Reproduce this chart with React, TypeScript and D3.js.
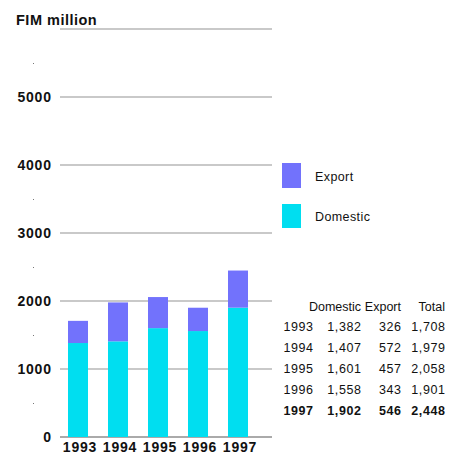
import React from "react";
import * as d3 from "d3";

const years = ["1993", "1994", "1995", "1996", "1997"];
const domestic = [1382, 1407, 1601, 1558, 1902];
const exportV = [326, 572, 457, 343, 546];
const totals = [1708, 1979, 2058, 1901, 2448];
const yTicks = [0, 1000, 2000, 3000, 4000, 5000];
const gridLines = [1000, 2000, 3000, 4000, 5000, 6000];
const minorTicks = [500, 1500, 2500, 3500, 5500];

const EXPORT_C = "#7272fc";
const DOM_C = "#00def0";
const FONT = "'Liberation Sans', Arial, Helvetica, sans-serif";

export default function App() {
  const W = 464, H = 454;
  const y = d3.scaleLinear().domain([0, 6000]).range([437, 29]);
  const x = d3.scaleBand().domain(years).range([58, 258]).paddingInner(0.5).paddingOuter(0.25);
  const fmt = d3.format(",");
  const colX = { year: 313, dom: 361, exp: 401, tot: 445 };
  const rowY = d3.scaleLinear().domain([0, 4]).range([331, 415]);
  const ls = 0.6;
  return (
    <svg width={W} height={H} style={{ position: "absolute", left: 0, top: 0, background: "#fff" }} fontFamily={FONT}>
      <text x={16} y={25} fontSize={14.5} fontWeight="bold" letterSpacing={0.5} fill="#111">FIM million</text>
      {gridLines.map((v) => (
        <line key={v} x1={60} x2={272} y1={y(v)} y2={y(v)} stroke="#c9c9c9" strokeWidth={2} />
      ))}
      <line x1={60} x2={272} y1={y(0)} y2={y(0)} stroke="#aaa" strokeWidth={2} />
      {minorTicks.map((v) => (
        <rect key={v} x={33} y={y(v)} width={1} height={1} fill="#777" />
      ))}
      {yTicks.map((v) => (
        <text key={v} x={51.8} y={y(v) + 5} fontSize={14} fontWeight="bold" letterSpacing={0.8} textAnchor="end" fill="#111">{v}</text>
      ))}
      {years.map((yr, i) => (
        <g key={yr}>
          <rect x={x(yr)} width={x.bandwidth()} y={y(domestic[i])} height={y(0) - y(domestic[i])} fill={DOM_C} />
          <rect x={x(yr)} width={x.bandwidth()} y={y(domestic[i] + exportV[i])} height={y(domestic[i]) - y(domestic[i] + exportV[i])} fill={EXPORT_C} />
          <text x={(x(yr) as number) + x.bandwidth() / 2 + 2} y={452} fontSize={14} fontWeight="bold" letterSpacing={0.8} textAnchor="middle" fill="#111">{yr}</text>
        </g>
      ))}
      <rect x={282} y={163} width={19} height={25} fill={EXPORT_C} />
      <text x={315} y={181} fontSize={12.5} letterSpacing={0.4} fill="#111">Export</text>
      <rect x={282} y={204} width={19} height={24} fill={DOM_C} />
      <text x={315} y={221} fontSize={12.5} letterSpacing={0.4} fill="#111">Domestic</text>
      <g fontSize={12.5} fill="#111">
        <text x={colX.dom} y={311} textAnchor="end">Domestic</text>
        <text x={colX.exp} y={311} textAnchor="end">Export</text>
        <text x={colX.tot} y={311} textAnchor="end">Total</text>
        {years.map((yr, i) => {
          const bold = i === years.length - 1 ? "bold" : "normal";
          return (
            <g key={yr} fontWeight={bold} letterSpacing={ls}>
              <text x={colX.year + ls} y={rowY(i)} textAnchor="end">{yr}</text>
              <text x={colX.dom + ls} y={rowY(i)} textAnchor="end">{fmt(domestic[i])}</text>
              <text x={colX.exp + ls} y={rowY(i)} textAnchor="end">{fmt(exportV[i])}</text>
              <text x={colX.tot + ls} y={rowY(i)} textAnchor="end">{fmt(totals[i])}</text>
            </g>
          );
        })}
      </g>
    </svg>
  );
}
